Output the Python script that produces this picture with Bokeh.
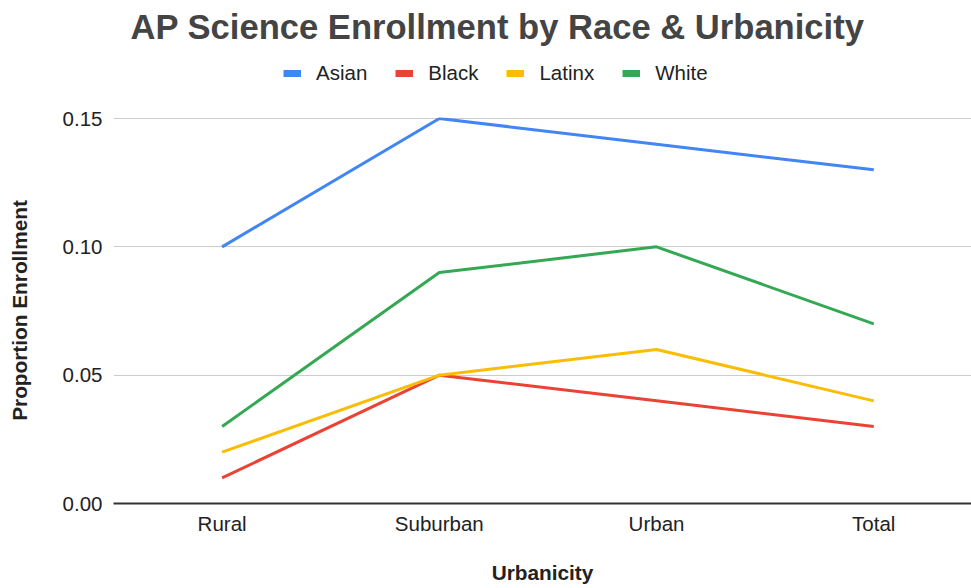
from bokeh.plotting import figure
from bokeh.layouts import column
from bokeh.models import (Range1d, Legend, LegendItem, FixedTicker,
                          NumeralTickFormatter)
from bokeh.embed import file_html
from bokeh.resources import INLINE

# ---- data ----
categories = ["Rural", "Suburban", "Urban", "Total"]
asian = [0.10, 0.15, 0.14, 0.13]
black = [0.01, 0.05, 0.04, 0.03]
latinx = [0.02, 0.05, 0.06, 0.04]
white = [0.03, 0.09, 0.10, 0.07]
y_ticks = [0.00, 0.05, 0.10, 0.15]

series_names = ["Asian", "Black", "Latinx", "White"]
series_values = [asian, black, latinx, white]
colors = ["#4285F4", "#EA4335", "#FBBC04", "#34A853"]

FONT = "Liberation Sans"
x = list(range(len(categories)))

# ---------- header: title + legend ----------
head = figure(width=971, height=105, output_backend="svg", toolbar_location=None,
              x_range=Range1d(0, 1), y_range=Range1d(0, 1),
              x_axis_type=None, y_axis_type=None,
              min_border_left=0, min_border_right=0, min_border_bottom=0,
              min_border_top=45)
head.outline_line_color = None
head.xgrid.grid_line_color = None
head.ygrid.grid_line_color = None
head.title.text = "AP Science Enrollment by Race & Urbanicity"
head.title.text_font = FONT
head.title.text_font_size = "34.6px"
head.title.text_font_style = "bold"
head.title.text_color = "#444444"
head.title.align = "left"
head.title.offset = 17
head.title.standoff = 0

items = []
for name, c in zip(series_names, colors):
    proxy = head.line([float("nan")], [float("nan")], line_color=c, line_width=7)
    items.append(LegendItem(label=name, renderers=[proxy]))

legend = Legend(items=items, orientation="horizontal", location=(170, 20),
                glyph_width=18, glyph_height=20, label_height=20,
                label_standoff=15, spacing=28, padding=0, margin=0,
                border_line_color=None, background_fill_alpha=0,
                label_text_font=FONT, label_text_font_size="20.5px",
                label_text_color="#222222")
head.add_layout(legend, "center")

# ---------- main chart ----------
p = figure(width=971, height=483, output_backend="svg", toolbar_location=None,
           x_range=Range1d(-0.5, 3.45), y_range=Range1d(0, 0.1504),
           min_border_left=113, min_border_right=0, min_border_bottom=85,
           min_border_top=12)
p.outline_line_color = None

for name, vals, c in zip(series_names, series_values, colors):
    p.line(x, vals, line_color=c, line_width=3)

p.xaxis.ticker = FixedTicker(ticks=x)
p.xaxis.major_label_overrides = {i: c for i, c in enumerate(categories)}
p.yaxis.ticker = FixedTicker(ticks=y_ticks)
p.yaxis.formatter = NumeralTickFormatter(format="0.00")

for ax in (p.xaxis[0], p.yaxis[0]):
    ax.major_tick_line_color = None
    ax.minor_tick_line_color = None
    ax.major_label_text_font = FONT
    ax.major_label_text_font_size = "20.5px"
    ax.major_label_text_color = "#222222"
    ax.axis_label_text_font = FONT
    ax.axis_label_text_font_size = "20.8px"
    ax.axis_label_text_font_style = "bold"
    ax.axis_label_text_color = "#222222"

p.xaxis.axis_label = "Urbanicity"
p.xaxis.axis_line_color = "#333333"
p.xaxis.axis_line_width = 2
p.xaxis.major_label_standoff = 2
p.xaxis.axis_label_standoff = 23
p.yaxis.axis_label = "Proportion Enrollment"
p.yaxis.axis_line_color = None
p.yaxis.major_label_standoff = 5
p.yaxis.axis_label_standoff = 29

p.xgrid.grid_line_color = None
p.ygrid.grid_line_color = "#cccccc"
p.ygrid.grid_line_width = 1

layout = column(head, p, spacing=0)
open("out.html", "w").write(file_html(layout, INLINE))
